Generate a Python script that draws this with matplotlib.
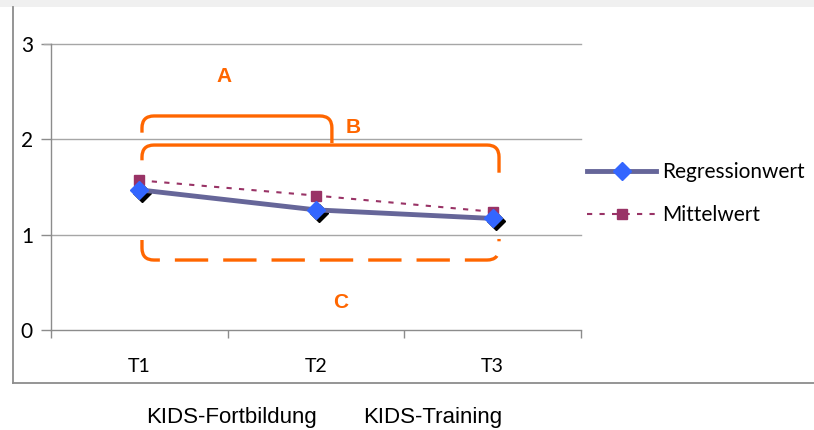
import numpy as np
import matplotlib
matplotlib.use("Agg")
import matplotlib.pyplot as plt
from matplotlib.path import Path
from matplotlib.patches import PathPatch, Rectangle
from matplotlib.lines import Line2D
import matplotlib.transforms as mtransforms

categories = ["T1", "T2", "T3"]
regression = [1.47, 1.26, 1.17]
mittelwert = [1.57, 1.41, 1.24]
yticks = [0, 1, 2, 3]

orange = "#ff6600"
grey = "#8c8c8c"
tickfont = "Lato"

fig = plt.figure(figsize=(8.14, 4.30), dpi=100)
W, H = 814, 430

# grey band on top and the outer chart frame
fig.patches.append(Rectangle((0, 1 - 7 / H), 1, 7 / H, transform=fig.transFigure,
                             facecolor="#f0f0f0", edgecolor="none"))
fig.add_artist(Line2D([12.5 / W, 12.5 / W], [1 - 7 / H, 1 - 383 / H], color=grey, lw=1.3))
fig.add_artist(Line2D([12.5 / W, 1], [1 - 383 / H, 1 - 383 / H], color=grey, lw=1.3))

ax = fig.add_axes([51 / W, 1 - 330 / H, 530 / W, 286 / H])
ax.set_xlim(0, 3)
ax.set_ylim(0, 3)
for s in ["top", "right"]:
    ax.spines[s].set_visible(False)
for s in ["left", "bottom"]:
    ax.spines[s].set_color(grey)
    ax.spines[s].set_linewidth(1.0)

x = np.arange(len(categories)) + 0.5
ax.set_yticks(yticks)
ax.set_yticklabels([str(v) for v in yticks], fontsize=15, family=tickfont)
ax.set_xticks([0, 1, 2, 3])
ax.set_xticklabels([])
ax.set_xticks(x, minor=True)
ax.set_xticklabels(categories, minor=True, fontsize=14, family=tickfont)
ax.tick_params(axis="x", which="major", length=6, color=grey, width=1.0)
ax.tick_params(axis="x", which="minor", length=0, pad=20)
ax.tick_params(axis="y", length=7, color=grey, width=1.0, pad=6)
for v in yticks[1:]:
    ax.axhline(v, color="#a6a6a6", lw=1.0, zorder=0, clip_on=False, xmin=0, xmax=1)
ax.plot([-7 / 176.67, 0], [3, 3], color="#a6a6a6", lw=1.0, clip_on=False)

# brackets
def bracket(x0, x1, yc, ya, yb, r=12, dashed=False):
    t = ax.transData
    p0 = t.transform((x0, ya))
    pc0 = t.transform((x0, yc))
    pc1 = t.transform((x1, yc))
    p1 = t.transform((x1, yb))
    sgn = 1 if pc0[1] > p0[1] else -1
    verts = [p0, (pc0[0], pc0[1] - sgn * r), pc0, (pc0[0] + r, pc0[1]),
             (pc1[0] - r, pc1[1]), pc1, (pc1[0], pc1[1] - sgn * r), p1]
    codes = [Path.MOVETO, Path.LINETO, Path.CURVE3, Path.CURVE3,
             Path.LINETO, Path.CURVE3, Path.CURVE3, Path.LINETO]
    patch = PathPatch(Path(verts, codes), transform=mtransforms.IdentityTransform(),
                      facecolor="none", edgecolor=orange, lw=2.4, capstyle="butt",
                      linestyle=(0, (10, 4.5)) if dashed else "-", zorder=3)
    fig.patches.append(patch)

bracket(0.515, 1.59, 2.245, 2.07, 1.96)
bracket(0.515, 2.536, 1.94, 1.78, 1.65)
bracket(0.515, 2.536, 0.734, 0.944, 0.955, dashed=True)

lab = dict(color=orange, fontsize=15, fontweight="bold", family="Liberation Sans",
           ha="center", va="center")
ax.text(0.98, 2.66, "A", **lab)
ax.text(1.71, 2.12, "B", **lab)
ax.text(1.64, 0.29, "C", **lab)

# series
shadow = mtransforms.offset_copy(ax.transData, fig=fig, x=3, y=-3, units="dots")
ax.plot(x, regression, "D", color="black", ms=9.5, mec="black", transform=shadow,
        zorder=4, clip_on=False)
ax.plot(x, mittelwert, color="#993366", lw=1.5, ls=(0, (2.5, 3.5)), marker="s",
        ms=7.5, mec="#993366", mfc="#993366", zorder=4, label="Mittelwert")
ax.plot(x, regression, color="#666699", lw=3.5, marker="D", ms=9.5, mfc="#3366ff",
        mec="#3366ff", zorder=5, label="Regressionwert", clip_on=False)

handles, labels = ax.get_legend_handles_labels()
fig.legend(handles[::-1], labels[::-1], loc="upper left", bbox_to_anchor=(577 / W, 1 - 152 / H),
           frameon=False, handlelength=3.3, handletextpad=0.3, labelspacing=1.1,
           prop={"family": tickfont, "size": 15}, borderpad=0)

fig.text(146 / W, 1 - 418 / H, "KIDS-Fortbildung", fontsize=16, family="Liberation Sans",
         ha="left", va="center")
fig.text(363 / W, 1 - 418 / H, "KIDS-Training", fontsize=16, family="Liberation Sans",
         ha="left", va="center")

fig.savefig("out.png", dpi=100)
